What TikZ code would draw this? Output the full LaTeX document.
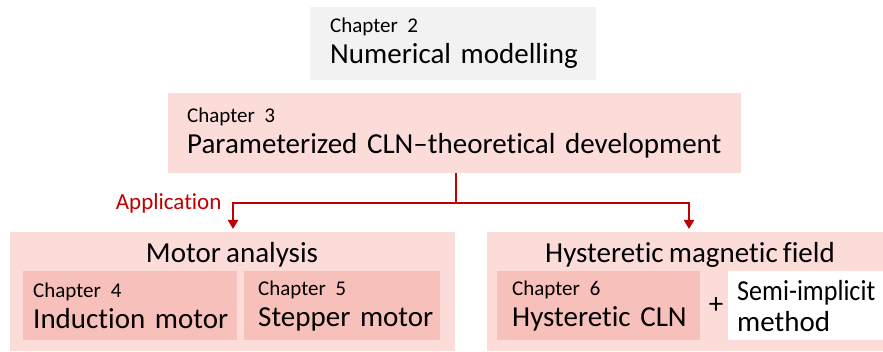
\documentclass[tikz,border=0pt]{standalone}
\usepackage{fontspec}
\setmainfont{Carlito}[Ligatures=NoCommon, Numbers=Proportional, WordSpace=0.8]
\usetikzlibrary{arrows.meta}

\definecolor{chapgray}{HTML}{F2F2F2}
\definecolor{palepink}{HTML}{FCDCD9}
\definecolor{deeppink}{HTML}{F8C0BA}
\definecolor{darkred}{HTML}{C00000}

\newcommand{\smalltxt}{\fontsize{21}{24}\selectfont}
\newcommand{\bigtxt}{\fontsize{29}{31}\selectfont}
\newcommand{\chaptxt}[2]{{\smalltxt Chapter #1}\\\mbox{#2}}

\begin{document}
\begin{tikzpicture}[x=1pt, y=-1pt, >={Triangle[width=10pt,length=9pt]}]
    \tikzset{
        chapbox/.style={fill=#1, anchor=north west, align=left, inner ysep=0pt, font=\bigtxt},
        groupbox/.style={fill=palepink, anchor=north west, inner sep=0pt},
        flow/.style={darkred, line width=2.6pt}
    }
    \useasboundingbox (0,0) rectangle (883,352);

    % chapters 2 and 3
    \node [chapbox=chapgray, inner xsep=20pt, text width=246pt, minimum height=73pt] (ch2) at (310,7)
        {\chaptxt{2}{Numerical modelling}};
    \node [chapbox=palepink, inner xsep=19pt, text width=535pt, minimum height=80pt] (ch3) at (168,93)
        {\chaptxt{3}{Parameterized CLN\textendash theoretical development}};

    % application groups
    \node [groupbox, minimum width=445pt, minimum height=119pt] (motor) at (10,232) {};
    \node [groupbox, minimum width=400pt, minimum height=119pt] (hyst) at (487,232) {};
    \node [font=\bigtxt, anchor=base] (motortitle) at (232,263) {Motor analysis};
    \node [font=\bigtxt, anchor=base] (hysttitle) at (690,263) {Hysteretic magnetic field};

    \node [chapbox=deeppink, inner xsep=10pt, text width=194pt, minimum height=69pt] (ch4) at (23,271)
        {\chaptxt{4}{Induction motor}};
    \node [chapbox=deeppink, inner xsep=14pt, text width=168pt, minimum height=69pt] (ch5) at (244,271)
        {\chaptxt{5}{Stepper motor}};
    \node [chapbox=deeppink, inner xsep=15pt, text width=173pt, minimum height=69pt] (ch6) at (497,271)
        {\chaptxt{6}{Hysteretic CLN}};
    \node [font=\bigtxt] (plus) at (716,306) {+};
    \node [chapbox=white, inner xsep=9pt, text width=150pt, minimum height=69pt] (semi) at (728,271)
        {\scalebox{0.9}[1]{Semi-implicit}\\method};

    % connectors
    \coordinate (split) at (456,203);
    \coordinate (left) at (233,229);
    \coordinate (right) at (689,229);
    \draw [flow] (ch3.south -| split) -- (split);
    \draw [flow, ->] (split) -| (left);
    \draw [flow, ->] (split) -| (right);
    \node [darkred, font=\fontsize{23}{26}\selectfont, anchor=base east] (app) at (225,210) {Application};
\end{tikzpicture}
\end{document}
